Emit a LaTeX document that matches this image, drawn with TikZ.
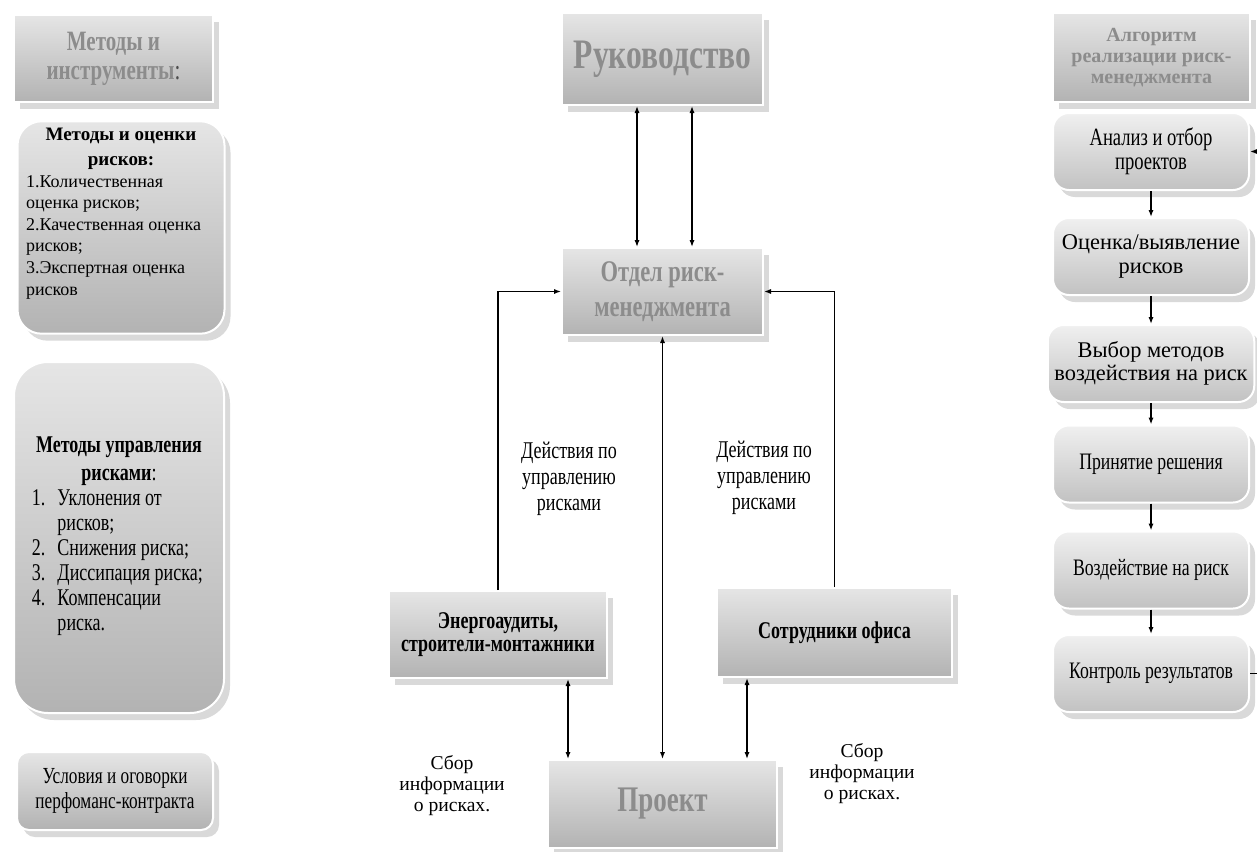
\documentclass[tikz,border=0pt]{standalone}
\usepackage{fontspec}
\setmainfont{Liberation Serif}
\newfontfamily\narrowserif{Liberation Serif}[FakeStretch=0.75]
\usetikzlibrary{positioning}
\usetikzlibrary{arrows.meta}
\usetikzlibrary{shadows}

\tikzset{
  panel/.style={shade, top color=black!10, bottom color=black!30, draw=white, line width=1pt,
    drop shadow={shadow xshift=3pt, shadow yshift=-3.5pt, opacity=0.3}},
  rectpanel/.style={panel, inner sep=2pt, align=center},
  roundpanel/.style={panel, rounded corners=8pt},
  steppanel/.style={roundpanel, top color=black!6, bottom color=black!24,
    minimum width=98pt, minimum height=38.5pt, align=center,
    font=\narrowserif\fontsize{11.8}{12}\selectfont},
  headtext/.style={text=black!45},
  link/.style={-{Latex[length=3.5pt,width=2.6pt]}, line width=0.7pt},
  bilink/.style={{Latex[length=3.5pt,width=2.6pt]}-{Latex[length=3.5pt,width=2.6pt]}, line width=0.7pt},
  note/.style={align=center, inner sep=0pt},
}

\begin{document}
\begin{tikzpicture}[x=0.5pt, y=-0.5pt]
        \useasboundingbox (0,0) rectangle (1257,851);
        % left column
        \node[rectpanel, headtext, minimum width=99.5pt, minimum height=43.5pt,
            font=\narrowserif\bfseries\fontsize{14}{14.5}\selectfont]
            (tools) at (113.5,58.5) {Методы и\\инструменты{\mdseries\color{black!70}:}};
        \node[roundpanel, rounded corners=12pt, minimum width=103.5pt, minimum height=105.5pt,
            text width=95pt, align=flush left, font=\fontsize{9}{10.8}\selectfont]
            (evaluate) at (121,227.5) {{\centering\bfseries\fontsize{9.5}{12.5}\selectfont
            Методы и оценки\\рисков:\par}%
            1.Количественная\\оценка рисков;\\2.Качественная оценка\\рисков;\\%
            3.Экспертная оценка\\рисков\rule[-16pt]{0pt}{16pt}};
        \node[roundpanel, rounded corners=17pt, minimum width=105pt, minimum height=175.5pt,
            text width=87pt, align=flush left, font=\narrowserif\fontsize{12}{12.5}\selectfont]
            (manage) at (119,537.5) {{\centering\fontsize{12}{14}\selectfont
            \textbf{Методы управления\\рисками}:\par}%
            \noindent\begin{tabular}{@{}l@{\hspace{6pt}}l@{}}
            1. & Уклонения от\\ & рисков;\\ 2. & Снижения риска;\\
            3. & Диссипация риска;\\ 4. & Компенсации\\ & риска.
            \end{tabular}};
        \node[roundpanel, rounded corners=6pt, minimum width=98pt, minimum height=39pt,
            align=center, font=\narrowserif\fontsize{11.5}{12.5}\selectfont]
            (terms) at (115,791) {Условия и оговорки\\перфоманс-контракта};

        % centre
        \node[rectpanel, headtext, minimum width=100.5pt, minimum height=46pt,
            font=\narrowserif\bfseries\fontsize{21}{24}\selectfont]
            (board) at (662.5,59) {Руководство};
        \node[rectpanel, headtext, minimum width=100.5pt, minimum height=43.5pt,
            font=\narrowserif\bfseries\fontsize{15}{17.5}\selectfont]
            (riskdept) at (662.5,291.5) {Отдел риск-\\менеджмента};
        \node[rectpanel, minimum width=109pt, minimum height=43.5pt,
            font=\narrowserif\bfseries\fontsize{12}{11.5}\selectfont]
            (auditors) at (498,634.5) {Энергоаудиты,\\строители-монтажники};
        \node[rectpanel, minimum width=117.5pt, minimum height=44.5pt,
            font=\narrowserif\bfseries\fontsize{12}{11.5}\selectfont]
            (office) at (834.5,632.5) {Сотрудники офиса};
        \node[rectpanel, headtext, minimum width=114.5pt, minimum height=44pt,
            font=\narrowserif\bfseries\fontsize{18}{20}\selectfont]
            (project) at (662.5,804) {Проект};

        \node[note, font=\narrowserif\fontsize{12}{13}\selectfont]
            (actleft) at (569,479) {Действия по\\управлению\\рисками};
        \node[note, font=\narrowserif\fontsize{12}{13}\selectfont]
            (actright) at (764,478) {Действия по\\управлению\\рисками};
        \node[note, font=\fontsize{9.8}{10.5}\selectfont]
            (infoleft) at (452,786) {Сбор\\информации\\о рисках.};
        \node[note, font=\fontsize{9.8}{10.5}\selectfont]
            (inforight) at (862,774) {Сбор\\информации\\о рисках.};

        \draw[bilink] ([xshift=-12.75pt]board.south) -- ([xshift=-12.75pt]riskdept.north);
        \draw[bilink] ([xshift=14.75pt]board.south) -- ([xshift=14.75pt]riskdept.north);
        \draw[link] (auditors.north) |- (riskdept.west);
        \draw[link] (office.north) |- (riskdept.east);
        \draw[bilink] (project.north) -- (riskdept.south);
        \coordinate (auditlink) at ([xshift=35pt]auditors.south);
        \coordinate (officelink) at ([xshift=-43.75pt]office.south);
        \draw[bilink] (auditlink) -- (auditlink |- project.north);
        \draw[bilink] (officelink) -- (officelink |- project.north);

        % right column
        \node[rectpanel, headtext, minimum width=98.5pt, minimum height=44.5pt,
            font=\bfseries\fontsize{10}{10.5}\selectfont]
            (algorithm) at (1151.5,57.5) {Алгоритм\\реализации риск-\\менеджмента};
        \node[steppanel, font=\narrowserif\fontsize{12.4}{12}\selectfont]
            (analysis) at (1151,151.5) {Анализ и отбор\\проектов};
        \node[steppanel, font=\fontsize{11.2}{12}\selectfont]
            (assess) at (1151,256.5) {Оценка/выявление\\рисков};
        \node[steppanel, font=\fontsize{11.2}{11.5}\selectfont]
            (choice) at (1151,363.5) {Выбор методов\\воздействия на риск};
        \node[steppanel] (decision) at (1151,464) {Принятие решения};
        \node[steppanel] (action) at (1151,570) {Воздействие на риск};
        \node[steppanel] (control) at (1151,673.5) {Контроль результатов};
        \foreach \from/\to in {analysis/assess, assess/choice, choice/decision,
                               decision/action, action/control}
            \draw[link] (\from) -- (\to);
        \coordinate (loopcorner) at (1268,673.5);
        \draw[link] (control.east) -- (loopcorner) |- (analysis.east);
\end{tikzpicture}
\end{document}
